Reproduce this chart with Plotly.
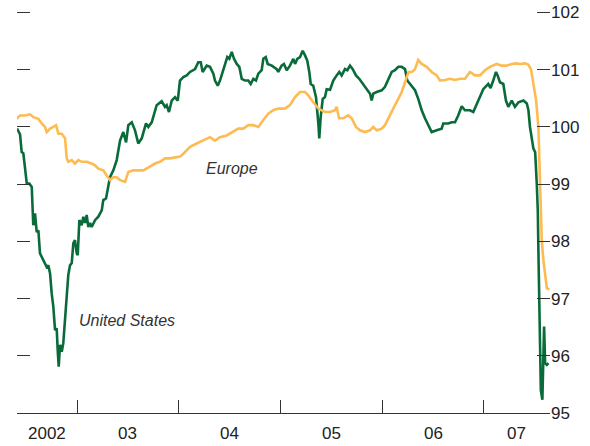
import plotly.graph_objects as go

# ---- data (decimal year, index value) ----
us_t = [2002.410, 2002.440, 2002.456, 2002.472, 2002.489, 2002.506, 2002.531, 2002.555, 2002.570, 2002.587,
        2002.604, 2002.620, 2002.636, 2002.669, 2002.702, 2002.718, 2002.735, 2002.751, 2002.767, 2002.784,
        2002.800, 2002.810, 2002.820, 2002.833, 2002.850, 2002.865, 2002.882, 2002.899, 2002.914, 2002.931,
        2002.948, 2002.964, 2002.980, 2002.997, 2003.007, 2003.023, 2003.046, 2003.062, 2003.079, 2003.095,
        2003.111, 2003.128, 2003.144, 2003.177, 2003.209, 2003.243, 2003.258, 2003.285, 2003.308, 2003.324,
        2003.357, 2003.390, 2003.423, 2003.455, 2003.482, 2003.504, 2003.538, 2003.570, 2003.602, 2003.636,
        2003.678, 2003.701, 2003.734, 2003.750, 2003.783, 2003.832, 2003.864, 2003.881, 2003.904, 2003.931,
        2003.963, 2003.990, 2004.012, 2004.045, 2004.078, 2004.111, 2004.160, 2004.192, 2004.216, 2004.235,
        2004.275, 2004.307, 2004.340, 2004.356, 2004.383, 2004.405, 2004.432, 2004.455, 2004.477, 2004.497,
        2004.521, 2004.543, 2004.570, 2004.595, 2004.619, 2004.651, 2004.684, 2004.707, 2004.733, 2004.759,
        2004.782, 2004.815, 2004.831, 2004.855, 2004.874, 2004.914, 2004.963, 2004.978, 2005.011, 2005.034,
        2005.061, 2005.093, 2005.126, 2005.143, 2005.165, 2005.192, 2005.218, 2005.241, 2005.263, 2005.283,
        2005.297, 2005.322, 2005.349, 2005.372, 2005.381, 2005.395, 2005.415, 2005.437, 2005.454, 2005.487,
        2005.519, 2005.552, 2005.578, 2005.601, 2005.634, 2005.657, 2005.683, 2005.710, 2005.742, 2005.774,
        2005.808, 2005.847, 2005.880, 2005.896, 2005.912, 2005.945, 2005.995, 2006.027, 2006.059, 2006.093,
        2006.125, 2006.158, 2006.191, 2006.224, 2006.246, 2006.289, 2006.322, 2006.354, 2006.388, 2006.420,
        2006.453, 2006.486, 2006.535, 2006.584, 2006.600, 2006.649, 2006.683, 2006.715, 2006.747, 2006.781,
        2006.813, 2006.862, 2006.895, 2006.944, 2006.993, 2007.042, 2007.065, 2007.091, 2007.118, 2007.134,
        2007.157, 2007.190, 2007.216, 2007.239, 2007.273, 2007.305, 2007.339, 2007.388, 2007.421, 2007.437,
        2007.452, 2007.486, 2007.503, 2007.519, 2007.529, 2007.535, 2007.542, 2007.552, 2007.559, 2007.574,
        2007.578, 2007.591, 2007.601, 2007.618, 2007.634]
us_v = [99.97, 99.87, 99.56, 99.54, 99.28, 99.01, 99.01, 98.95, 98.28, 98.49,
        98.16, 98.19, 97.79, 97.67, 97.55, 97.58, 97.44, 97.09, 96.86, 96.45,
        96.48, 96.10, 95.81, 96.19, 96.07, 96.22, 96.62, 97.03, 97.41, 97.58,
        97.62, 97.97, 98.02, 97.79, 97.76, 98.37, 98.28, 98.43, 98.32, 98.46,
        98.25, 98.32, 98.25, 98.37, 98.43, 98.54, 98.72, 98.75, 99.01, 99.12,
        99.24, 99.42, 99.76, 99.91, 99.73, 100.03, 100.08, 99.94, 99.71, 99.80,
        100.06, 100.00, 100.08, 100.17, 100.38, 100.45, 100.35, 100.38, 100.26, 100.46,
        100.52, 100.46, 100.81, 100.87, 100.90, 100.96, 101.01, 101.13, 101.13, 100.96,
        101.07, 101.05, 100.93, 100.81, 100.72, 100.81, 100.96, 101.10, 101.22, 101.19,
        101.31, 101.19, 101.10, 101.05, 100.84, 100.81, 100.81, 100.75, 100.84, 100.81,
        100.93, 100.99, 101.19, 101.22, 101.10, 101.07, 101.01, 100.96, 101.07, 101.10,
        100.99, 101.07, 101.19, 101.10, 101.19, 101.22, 101.33, 101.25, 101.16, 100.96,
        100.75, 100.72, 100.52, 100.06, 99.80, 100.17, 100.49, 100.52, 100.66, 100.65,
        100.81, 100.90, 100.96, 100.90, 101.01, 100.99, 101.07, 101.01, 100.90, 100.84,
        100.75, 100.66, 100.58, 100.46, 100.58, 100.61, 100.64, 100.70, 100.84, 100.96,
        100.99, 101.05, 101.05, 101.01, 100.81, 100.72, 100.64, 100.49, 100.29, 100.15,
        100.03, 99.91, 99.94, 99.97, 100.06, 100.06, 100.08, 100.08, 100.20, 100.36,
        100.29, 100.29, 100.26, 100.46, 100.66, 100.75, 100.68, 100.81, 100.96, 100.90,
        100.78, 100.75, 100.46, 100.35, 100.46, 100.35, 100.43, 100.46, 100.41, 100.29,
        100.00, 99.62, 99.56, 99.01, 98.54, 97.84, 96.97, 95.87, 95.40, 95.23,
        95.69, 96.51, 95.87, 95.84, 95.87]

eu_t = [2002.407, 2002.440, 2002.489, 2002.538, 2002.571, 2002.620, 2002.653, 2002.685, 2002.702, 2002.735,
        2002.767, 2002.794, 2002.817, 2002.850, 2002.882, 2002.899, 2002.914, 2002.948, 2002.980, 2003.013,
        2003.046, 2003.095, 2003.144, 2003.177, 2003.209, 2003.258, 2003.292, 2003.324, 2003.357, 2003.390,
        2003.423, 2003.472, 2003.504, 2003.553, 2003.652, 2003.717, 2003.767, 2003.816, 2003.865, 2003.914,
        2003.963, 2004.012, 2004.045, 2004.111, 2004.176, 2004.241, 2004.307, 2004.356, 2004.405, 2004.471,
        2004.536, 2004.585, 2004.634, 2004.684, 2004.733, 2004.782, 2004.831, 2004.880, 2004.929, 2004.978,
        2005.043, 2005.093, 2005.143, 2005.192, 2005.241, 2005.273, 2005.322, 2005.372, 2005.405, 2005.437,
        2005.487, 2005.536, 2005.552, 2005.575, 2005.617, 2005.666, 2005.700, 2005.742, 2005.781, 2005.830,
        2005.880, 2005.912, 2005.945, 2005.995, 2006.027, 2006.059, 2006.093, 2006.125, 2006.158, 2006.191,
        2006.224, 2006.258, 2006.291, 2006.322, 2006.354, 2006.388, 2006.437, 2006.486, 2006.535, 2006.568,
        2006.617, 2006.666, 2006.715, 2006.764, 2006.813, 2006.862, 2006.912, 2006.961, 2007.010, 2007.059,
        2007.125, 2007.174, 2007.222, 2007.273, 2007.321, 2007.354, 2007.403, 2007.435, 2007.462, 2007.486,
        2007.513, 2007.535, 2007.552, 2007.568, 2007.584, 2007.618, 2007.644]
eu_v = [100.14, 100.20, 100.20, 100.22, 100.17, 100.14, 100.06, 100.00, 99.91, 99.97,
        100.00, 100.03, 99.88, 99.88, 99.80, 99.45, 99.39, 99.42, 99.36, 99.42,
        99.39, 99.39, 99.36, 99.33, 99.27, 99.24, 99.15, 99.07, 99.12, 99.12,
        99.07, 99.04, 99.21, 99.24, 99.24, 99.30, 99.36, 99.39, 99.45, 99.45,
        99.46, 99.48, 99.53, 99.65, 99.71, 99.76, 99.82, 99.76, 99.82, 99.85,
        99.91, 99.97, 99.97, 100.03, 100.03, 100.00, 100.12, 100.23, 100.29, 100.32,
        100.32, 100.38, 100.52, 100.61, 100.61, 100.55, 100.43, 100.32, 100.29, 100.26,
        100.26, 100.29, 100.35, 100.15, 100.15, 100.20, 100.15, 100.00, 99.94, 99.91,
        99.94, 100.00, 99.94, 99.97, 100.03, 100.15, 100.29, 100.38, 100.49, 100.61,
        100.78, 100.96, 100.96, 101.01, 101.17, 101.10, 101.05, 100.96, 100.90, 100.81,
        100.82, 100.84, 100.82, 100.84, 100.84, 100.96, 100.90, 100.90, 100.99, 101.05,
        101.10, 101.07, 101.07, 101.10, 101.11, 101.10, 101.11, 101.09, 101.01, 100.75,
        100.46, 100.00, 99.01, 98.02, 97.67, 97.18, 97.16]

y_ticks = [95, 96, 97, 98, 99, 100, 101, 102]
year_bounds = [2003, 2004, 2005, 2006, 2007]
year_labels = ["2002", "03", "04", "05", "06", "07"]
x_start, x_end = 2002.410, 2007.649

GREEN = "#0a6b3a"
ORANGE = "#fdbb52"
FONT = "Liberation Sans Narrow, Arial Narrow, Liberation Sans, Arial, sans-serif"
TICKC = "#333333"

fig = go.Figure()
fig.add_trace(go.Scatter(x=us_t, y=us_v, mode="lines", line=dict(color=GREEN, width=2.6),
                         name="United States", showlegend=False, hoverinfo="skip"))
fig.add_trace(go.Scatter(x=eu_t, y=eu_v, mode="lines", line=dict(color=ORANGE, width=2.6),
                         name="Europe", showlegend=False, hoverinfo="skip"))
fig.add_trace(go.Scatter(x=[None], y=[None], yaxis="y2", showlegend=False, hoverinfo="skip"))

# year labels centred in each year's span
bounds = [x_start] + year_bounds + [x_end]
for i, lab in enumerate(year_labels):
    fig.add_annotation(x=(bounds[i] + bounds[i + 1]) / 2, y=0, xref="x", yref="paper",
                       text=lab, showarrow=False, yanchor="top", yshift=-9,
                       font=dict(family=FONT, size=17, color="#222222"))

fig.add_annotation(x=2004.523, y=99.28, text="<i>Europe</i>", showarrow=False,
                   font=dict(family=FONT, size=16, color="#333333"))
fig.add_annotation(x=2003.491, y=96.62, text="<i>United States</i>", showarrow=False,
                   font=dict(family=FONT, size=16, color="#333333"))

fig.update_layout(
    width=590, height=446,
    margin=dict(l=17, r=40, t=1, b=33),
    paper_bgcolor="white", plot_bgcolor="white",
    hovermode=False,
    xaxis=dict(range=[x_start, x_end], tickvals=year_bounds, ticks="inside", ticklen=13,
               tickwidth=1.2, tickcolor=TICKC, showticklabels=False, showgrid=False,
               zeroline=False, showline=True, linecolor=TICKC, linewidth=1.2),
    yaxis=dict(range=[95, 102.2], tickvals=y_ticks, side="right", ticks="inside", ticklen=13,
               tickwidth=1.2, tickcolor=TICKC, showgrid=False, zeroline=False, showline=False,
               tickfont=dict(family=FONT, size=17, color="#222222")),
    yaxis2=dict(range=[95, 102.2], tickvals=y_ticks, overlaying="y", side="left", ticks="inside",
                ticklen=13, tickwidth=1.2, tickcolor=TICKC, showticklabels=False, showgrid=False,
                zeroline=False, showline=False),
)

fig.write_html("out.html", config={"displayModeBar": False},
               post_script="document.body.style.margin='0';document.body.style.padding='0';")
